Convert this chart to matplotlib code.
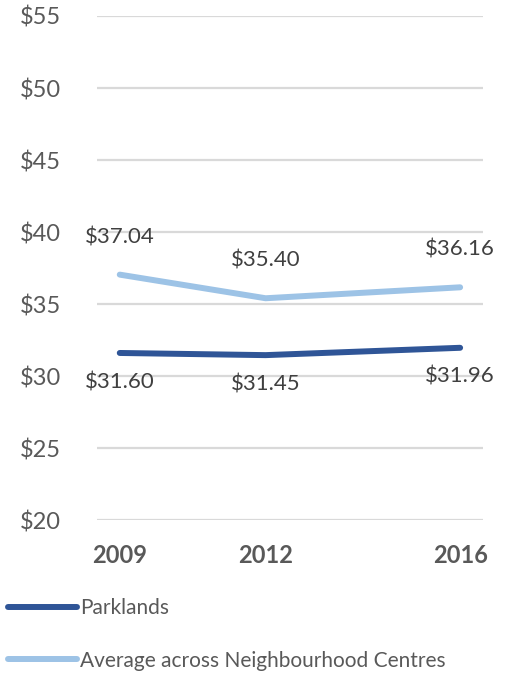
import matplotlib
matplotlib.use('Agg')
import matplotlib.pyplot as plt

# ── datos ─────────────────────────────────────────────────────────────────────
years       = [2009, 2012, 2016]
parklands   = [31.60, 31.45, 31.96]
neigh_avg   = [37.04, 35.40, 36.16]
yticks      = [20, 25, 30, 35, 40, 45, 50, 55]
series_names = ['Parklands', 'Average across Neighbourhood Centres']

C_DARK  = '#2F5597'
C_LIGHT = '#9DC3E6'
C_GRID  = '#D9D9D9'
C_TICK  = '#595959'
C_LBL   = '#404040'

plt.rcParams['font.family'] = ['Lato', 'DejaVu Sans']

fig = plt.figure(figsize=(5.1, 6.75), dpi=100, facecolor='white')
ax = fig.add_axes([0.19, 0.2296, 0.757, 0.7467])

ax.plot(years, parklands, color=C_DARK, linewidth=4.3, solid_capstyle='round',
        label=series_names[0], zorder=3)
ax.plot(years, neigh_avg, color=C_LIGHT, linewidth=4.3, solid_capstyle='round',
        label=series_names[1], zorder=3)

# etiquetas de datos
for x, y in zip(years, neigh_avg):
    ax.annotate(f'${y:.2f}', (x, y), xytext=(0, 27), textcoords='offset points',
                ha='center', va='center', fontsize=16, color=C_LBL)
for x, y in zip(years, parklands):
    ax.annotate(f'${y:.2f}', (x, y), xytext=(0, -21), textcoords='offset points',
                ha='center', va='center', fontsize=16, color=C_LBL)

ax.set_xlim(2008.53, 2016.47)
ax.set_ylim(20, 55)
ax.set_yticks(yticks)
ax.set_yticklabels([f'${v}' for v in yticks])
ax.set_xticks(years)
ax.set_xticklabels([str(y) for y in years])

ax.grid(axis='y', color=C_GRID, linewidth=1.6)
ax.set_axisbelow(True)
for s in ax.spines.values():
    s.set_visible(False)
ax.tick_params(axis='both', length=0)
ax.tick_params(axis='y', labelsize=17, labelcolor=C_TICK, pad=26)
ax.tick_params(axis='x', labelsize=17, labelcolor=C_TICK, pad=17)
for t in ax.get_xticklabels():
    t.set_fontweight('bold')

fig.legend(loc='upper left', bbox_to_anchor=(0.0, 0.126), frameon=False,
           fontsize=15, handlelength=3.3, handletextpad=0.15, labelspacing=1.55,
           labelcolor=C_TICK, borderaxespad=0)

fig.savefig('out.png', dpi=100, facecolor='white')
